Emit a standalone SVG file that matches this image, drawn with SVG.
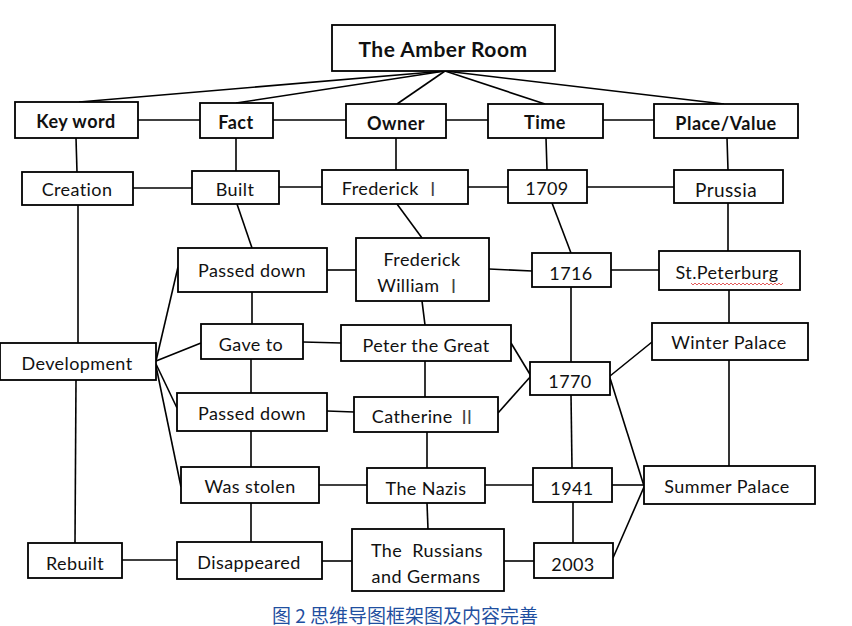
<svg xmlns="http://www.w3.org/2000/svg" width="852" height="626" viewBox="0 0 852 626">
<style>
rect{fill:#fff;stroke:#000;stroke-width:1.8}
text{font-family:Lato,"Open Sans","Liberation Sans",sans-serif;font-size:18px;letter-spacing:0.4px;fill:#111;text-anchor:middle;dominant-baseline:central}
.b{font-weight:bold;letter-spacing:0.5px}
.t{font-size:21px}
.rn{font-family:"Noto Sans CJK SC","DejaVu Serif",serif;fill:#444}
#links line{stroke:#000;stroke-width:1.6;fill:none}
.cap{font-family:"Noto Sans CJK SC","Noto Sans",sans-serif;font-size:19px;letter-spacing:0;fill:#1f4fa0}
</style>
<rect x="0" y="0" width="852" height="626" style="fill:#fff;stroke:none"/>
<g id="links">
<line x1="445" y1="71" x2="79" y2="102"/>
<line x1="445" y1="71" x2="236" y2="103"/>
<line x1="445" y1="71" x2="397" y2="104"/>
<line x1="445" y1="71" x2="545" y2="104"/>
<line x1="445" y1="71" x2="724" y2="104"/>
<line x1="138" y1="120" x2="200" y2="120"/>
<line x1="273" y1="120" x2="346" y2="120"/>
<line x1="446" y1="120" x2="488" y2="120"/>
<line x1="603" y1="120" x2="654" y2="120"/>
<line x1="76" y1="138" x2="77" y2="172"/>
<line x1="236" y1="138" x2="236" y2="171"/>
<line x1="396" y1="138" x2="396" y2="170"/>
<line x1="546" y1="138" x2="547" y2="170"/>
<line x1="727" y1="138" x2="728" y2="170"/>
<line x1="133" y1="188" x2="192" y2="188"/>
<line x1="279" y1="187" x2="322" y2="187"/>
<line x1="468" y1="187" x2="508" y2="187"/>
<line x1="587" y1="187" x2="674" y2="187"/>
<line x1="237" y1="204" x2="252" y2="248"/>
<line x1="397" y1="204" x2="422" y2="238"/>
<line x1="552" y1="203" x2="571" y2="253"/>
<line x1="728" y1="203" x2="728" y2="251"/>
<line x1="78" y1="205" x2="78" y2="343"/>
<line x1="76" y1="380" x2="75" y2="543"/>
<line x1="156" y1="361" x2="178" y2="267"/>
<line x1="156" y1="361" x2="201" y2="343"/>
<line x1="156" y1="364" x2="177" y2="408"/>
<line x1="156" y1="366" x2="181" y2="487"/>
<line x1="327" y1="270" x2="356" y2="270"/>
<line x1="489" y1="269" x2="532" y2="271"/>
<line x1="611" y1="270" x2="659" y2="270"/>
<line x1="252" y1="292" x2="252" y2="324"/>
<line x1="422" y1="301" x2="425" y2="325"/>
<line x1="571" y1="287" x2="571" y2="362"/>
<line x1="729" y1="290" x2="729" y2="323"/>
<line x1="303" y1="342" x2="341" y2="343"/>
<line x1="511" y1="343" x2="531" y2="376"/>
<line x1="498" y1="413" x2="531" y2="376"/>
<line x1="610" y1="376" x2="652" y2="342"/>
<line x1="610" y1="378" x2="644" y2="486"/>
<line x1="251" y1="359" x2="251" y2="393"/>
<line x1="425" y1="361" x2="425" y2="397"/>
<line x1="327" y1="411" x2="354" y2="412"/>
<line x1="571" y1="395" x2="572" y2="468"/>
<line x1="729" y1="360" x2="729" y2="466"/>
<line x1="251" y1="431" x2="251" y2="467"/>
<line x1="427" y1="432" x2="427" y2="468"/>
<line x1="319" y1="485" x2="367" y2="485"/>
<line x1="485" y1="485" x2="533" y2="485"/>
<line x1="612" y1="485" x2="644" y2="485"/>
<line x1="251" y1="503" x2="251" y2="542"/>
<line x1="427" y1="503" x2="428" y2="529"/>
<line x1="573" y1="502" x2="573" y2="543"/>
<line x1="613" y1="558" x2="644" y2="487"/>
<line x1="122" y1="560" x2="177" y2="560"/>
<line x1="322" y1="561" x2="352" y2="561"/>
<line x1="504" y1="561" x2="534" y2="561"/>
</g>
<g id="n-amber"><rect x="332" y="25" width="223" height="46"/><text class="b t" x="443" y="48">The Amber Room</text></g>
<g id="n-keyword"><rect x="15" y="102" width="123" height="36"/><text class="b" x="76" y="121">Key word</text></g>
<g id="n-fact"><rect x="200" y="103" width="73" height="35"/><text class="b" x="236" y="122">Fact</text></g>
<g id="n-owner"><rect x="346" y="104" width="100" height="34"/><text class="b" x="396" y="123">Owner</text></g>
<g id="n-time"><rect x="488" y="104" width="115" height="34"/><text class="b" x="545" y="122">Time</text></g>
<g id="n-place"><rect x="654" y="104" width="144" height="34"/><text class="b" x="726" y="123">Place/Value</text></g>
<g id="n-creation"><rect x="22" y="172" width="111" height="33"/><text x="77" y="189">Creation</text></g>
<g id="n-built"><rect x="192" y="171" width="87" height="33"/><text x="235" y="189">Built</text></g>
<g id="n-fred1"><rect x="322" y="170" width="146" height="34"/><text x="392" y="188">Frederick <tspan class="rn">Ⅰ</tspan></text></g>
<g id="n-1709"><rect x="508" y="170" width="79" height="33"/><text x="547" y="188">1709</text></g>
<g id="n-prussia"><rect x="674" y="170" width="109" height="33"/><text x="726" y="189" style="font-size:19px">Prussia</text></g>
<g id="n-passed1"><rect x="178" y="248" width="149" height="44"/><text x="252" y="270">Passed down</text></g>
<g id="n-fw1"><rect x="356" y="238" width="133" height="63"/><text x="422" y="259">Frederick</text><text x="420" y="285">William <tspan class="rn">Ⅰ</tspan></text></g>
<g id="n-1716"><rect x="532" y="253" width="79" height="34"/><text x="571" y="273">1716</text></g>
<g id="n-stp"><rect x="659" y="251" width="141" height="39"/><text x="727" y="272">St.Peterburg</text><polyline points="691,283 693,285 695,283 697,285 699,283 701,285 703,283 705,285 707,283 709,285 711,283 713,285 715,283 717,285 719,283 721,285 723,283 725,285 727,283 729,285 731,283 733,285 735,283 737,285 739,283 741,285 743,283 745,285 747,283 749,285 751,283 753,285 755,283 757,285 759,283 761,285 763,283 765,285 767,283 769,285 771,283 773,285 775,283 777,285 779,283 781,285 783,283" style="fill:none;stroke:#d33;stroke-width:0.8"/></g>
<g id="n-gave"><rect x="201" y="324" width="102" height="35"/><text x="251" y="344">Gave to</text></g>
<g id="n-peter"><rect x="341" y="325" width="170" height="36"/><text x="426" y="345">Peter the Great</text></g>
<g id="n-winter"><rect x="652" y="323" width="156" height="37"/><text x="729" y="342">Winter Palace</text></g>
<g id="n-dev"><rect x="0" y="343" width="156" height="37"/><text x="77" y="363">Development</text></g>
<g id="n-1770"><rect x="530" y="362" width="80" height="33"/><text x="570" y="381">1770</text></g>
<g id="n-passed2"><rect x="177" y="393" width="150" height="38"/><text x="252" y="413">Passed down</text></g>
<g id="n-cath"><rect x="354" y="397" width="144" height="35"/><text x="424" y="416">Catherine <tspan class="rn">Ⅱ</tspan></text></g>
<g id="n-stolen"><rect x="181" y="467" width="138" height="36"/><text x="250" y="486">Was stolen</text></g>
<g id="n-nazis"><rect x="367" y="468" width="118" height="35"/><text x="426" y="488">The Nazis</text></g>
<g id="n-1941"><rect x="533" y="468" width="79" height="34"/><text x="572" y="488">1941</text></g>
<g id="n-summer"><rect x="644" y="466" width="171" height="38"/><text x="727" y="486">Summer Palace</text></g>
<g id="n-rebuilt"><rect x="28" y="543" width="94" height="35"/><text x="75" y="563">Rebuilt</text></g>
<g id="n-disappeared"><rect x="177" y="542" width="145" height="37"/><text x="249" y="562">Disappeared</text></g>
<g id="n-russians"><rect x="352" y="529" width="152" height="62"/><text x="427" y="550" xml:space="preserve">The  Russians</text><text x="426" y="576">and Germans</text></g>
<g id="n-2003"><rect x="534" y="543" width="79" height="35"/><text x="573" y="564">2003</text></g>
<text class="cap" x="405" y="614">图 2 思维导图框架图及内容完善</text>
</svg>
